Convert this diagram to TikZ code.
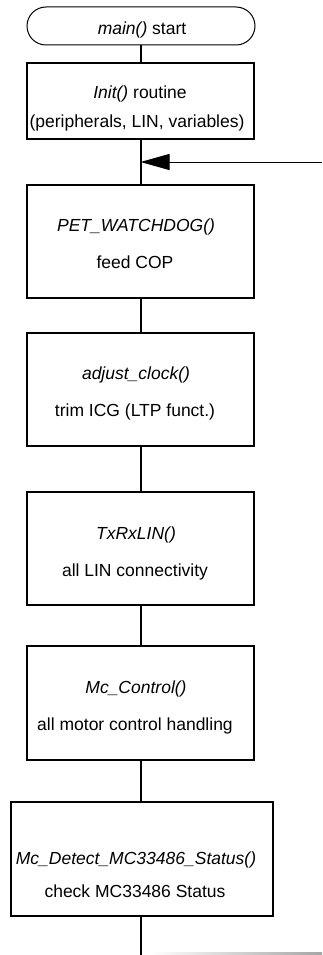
\documentclass[tikz,border=0pt]{standalone}
\usepackage{fontspec}
\setmainfont{Liberation Sans}
\usetikzlibrary{arrows.meta}
\begin{document}
\begin{tikzpicture}[x=1pt,y=-1pt,
  box/.style={draw, line width=2pt, minimum width=227pt, minimum height=113pt, inner sep=0pt},
  termbox/.style={draw, line width=1pt, rounded corners=19pt, minimum width=228pt, minimum height=38pt, inner sep=0pt},
  lbl/.style={anchor=base, inner sep=0pt, font=\fontsize{17.5}{21}\selectfont},
  conn/.style={line width=2pt},
  loopline/.style={line width=1pt, -{Triangle[length=29pt,width=16pt]}}]
\useasboundingbox (0,0) rectangle (322,955);

% boxes
\node[termbox] (start) at (141,26) {};
\node[box, minimum height=76pt] (init) at (140.5,101) {};
\node[box] (pet) at (140.5,241.5) {};
\node[box] (adj) at (140.5,389.5) {};
\node[box] (txrx) at (140.5,548.5) {};
\node[box, minimum height=114pt] (mcc) at (140.5,703) {};
\node[box, minimum width=262pt, minimum height=114pt] (mcd) at (142,859) {};

% texts
\node[lbl] (t0) at (142,35) {\textit{main()} start};
\node[lbl] (t1a) at (140,99) {\textit{Init()} routine};
\node[lbl] (t1b) at (137,128) {(peripherals, LIN, variables)};
\node[lbl] (t2a) at (136,231) {\textit{PET\_WATCHDOG()}};
\node[lbl] (t2b) at (135,268) {feed COP};
\node[lbl] (t3a) at (136,379) {\textit{adjust\_clock()}};
\node[lbl] (t3b) at (135,416) {trim ICG (LTP funct.)};
\node[lbl] (t4a) at (136,539) {\textit{TxRxLIN()}};
\node[lbl] (t4b) at (135,576) {all LIN connectivity};
\node[lbl] (t5a) at (136,693) {\textit{Mc\_Control()}};
\node[lbl] (t5b) at (135,730) {all motor control handling};
\node[lbl] (t6a) at (136,864) {\textit{Mc\_Detect\_MC33486\_Status()}};
\node[lbl] (t6b) at (135,897) {check MC33486 Status};

% connectors
\coordinate (join) at (140.5,162);
\coordinate (loopin) at (322,162);
\coordinate (bottom) at (140.5,955);
\draw[conn] (start.south -| init.north) -- (init.north);
\draw[conn] (init.south) -- (pet.north);
\draw[conn] (pet.south) -- (adj.north);
\draw[conn] (adj.south) -- (txrx.north);
\draw[conn] (txrx.south) -- (mcc.north);
\draw[conn] (mcc.south) -- (mcc.south |- mcd.north);
\draw[conn] (mcd.south -| bottom) -- (bottom);
\draw[loopline] (loopin) -- (join);

% faint line at bottom edge
\shade[left color=white, right color=gray!70] (150,952.5) rectangle (322,954.5);
\end{tikzpicture}
\end{document}
